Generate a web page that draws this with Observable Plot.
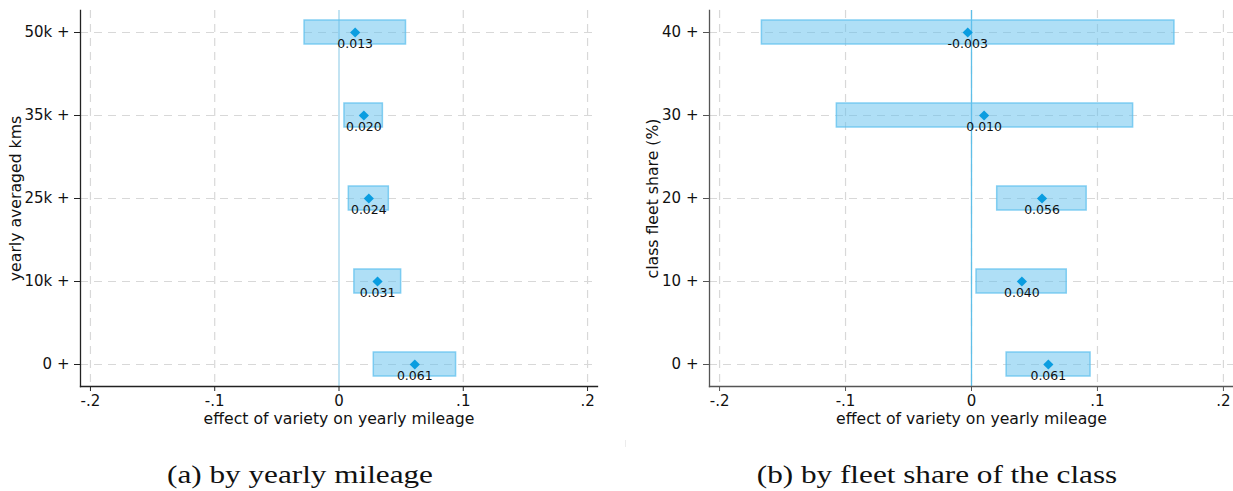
<!DOCTYPE html>
<html>
<head>
<meta charset="utf-8">
<script src="https://cdn.jsdelivr.net/npm/d3@7"></script>
<script src="https://cdn.jsdelivr.net/npm/@observablehq/plot@0.6"></script>
<style>
  html, body { margin: 0; padding: 0; background: #fff; }
  #root { position: relative; width: 1233px; height: 491px; overflow: hidden; font-family: "DejaVu Sans", sans-serif; }
  .panel { position: absolute; top: 0; }
  .divider { position: absolute; left: 625px; top: 0; width: 0; height: 447px; border-left: 1px solid #ececec; }
  .caption { position: absolute; top: 460px; font-family: "Liberation Serif", "DejaVu Serif", serif; font-size: 26px; line-height: 30px; color: #111; transform: translateX(-50%) scaleX(1.2); white-space: nowrap; }
</style>
</head>
<body>
<div id="root">
  <div id="left" class="panel" style="left:0px"></div>
  <div class="divider"></div>
  <div id="right" class="panel" style="left:625px"></div>
  <div class="caption" style="left:300px">(a) by yearly mileage</div>
  <div class="caption" style="left:937px">(b) by fleet share of the class</div>
</div>
<script>
// ---- data ----
const mileageCats = ["0 +", "10k +", "25k +", "35k +", "50k +"];
const mileageEst  = [0.061, 0.031, 0.024, 0.020, 0.013];
const mileageLo   = [0.028, 0.0124, 0.0079, 0.0044, -0.0277];
const mileageHi   = [0.0942, 0.050, 0.0401, 0.0353, 0.0539];
const mileageLbl  = ["0.061", "0.031", "0.024", "0.020", "0.013"];

const shareCats = ["0 +", "10 +", "20 +", "30 +", "40 +"];
const shareEst  = [0.061, 0.040, 0.056, 0.010, -0.003];
const shareLo   = [0.0279, 0.004, 0.0204, -0.1069, -0.1664];
const shareHi   = [0.0945, 0.0756, 0.0914, 0.1283, 0.1611];
const shareLbl  = ["0.061", "0.040", "0.056", "0.010", "-0.003"];

const xTicks = [-0.2, -0.1, 0, 0.1, 0.2];
const xTickLabels = ["-.2", "-.1", "0", ".1", ".2"];
const xDomain = [-0.208, 0.208];
const xTitle = "effect of variety on yearly mileage";

function panel({cats, est, lo, hi, lbl, yTitle, width, marginLeft, marginRight, titleDx, axisColor, zeroColor, zeroWidth}) {
  const rows = cats.map((c, i) => ({cat: c, est: est[i], lo: lo[i], hi: hi[i], lbl: lbl[i]}));
  return Plot.plot({
    width, height: 440,
    marginLeft, marginRight, marginTop: 10, marginBottom: 54,
    style: {fontFamily: "DejaVu Sans, sans-serif", fontSize: "15px", color: "#111", background: "white"},
    x: {domain: xDomain, ticks: xTicks},
    y: {domain: cats.slice().reverse(), paddingInner: 0.711, paddingOuter: 0.12},
    marks: [
      Plot.gridX(xTicks, {stroke: "#d8d8d8", strokeOpacity: 1, strokeWidth: 1.2, strokeDasharray: "8,6"}),
      Plot.gridY(cats, {stroke: "#d8d8d8", strokeOpacity: 1, strokeWidth: 1.2, strokeDasharray: "8,6"}),
      Plot.ruleX([0], {stroke: zeroColor, strokeWidth: zeroWidth}),
      Plot.barX(rows, {x1: "lo", x2: "hi", y: "cat", fill: "#5fc0ee", fillOpacity: 0.5, stroke: "#5fc0ee", strokeOpacity: 0.75, strokeWidth: 1.5}),
      Plot.dot(rows, {x: "est", y: "cat", symbol: "diamond2", r: 4.6, fill: "#0a9de0", stroke: "none"}),
      Plot.text(rows, {x: "est", y: "cat", text: "lbl", dy: 11, fontSize: 12.5, fill: "#111"}),
      Plot.axisX({ticks: xTicks, tickFormat: (d) => xTickLabels[xTicks.indexOf(d)], tickSize: 5, tickPadding: 4, fontSize: 15, stroke: axisColor, label: null}),
      Plot.axisY({tickSize: 6, tickPadding: 5, fontSize: 15, stroke: axisColor, label: null}),
      Plot.frame({anchor: "bottom", stroke: axisColor, strokeWidth: 1.3}),
      Plot.frame({anchor: "left", stroke: axisColor, strokeWidth: 1.3}),
      Plot.text([xTitle], {frameAnchor: "bottom", dy: 32, lineAnchor: "middle", fontSize: 15.7, fill: "#111"}),
      Plot.text([yTitle], {frameAnchor: "left", dx: titleDx, rotate: -90, lineAnchor: "middle", textAnchor: "middle", fontSize: 15.7, fill: "#111"})
    ]
  });
}

document.getElementById("left").appendChild(panel({
  cats: mileageCats, est: mileageEst, lo: mileageLo, hi: mileageHi, lbl: mileageLbl,
  yTitle: "yearly averaged kms", width: 615, marginLeft: 80, marginRight: 18, titleDx: -65,
  axisColor: "#222", zeroColor: "#c2e3f2", zeroWidth: 2
}));
document.getElementById("right").appendChild(panel({
  cats: shareCats, est: shareEst, lo: shareLo, hi: shareHi, lbl: shareLbl,
  yTitle: "class fleet share (%)", width: 608, marginLeft: 84, marginRight: 0, titleDx: -57,
  axisColor: "#555", zeroColor: "#5fbfe8", zeroWidth: 1.3
}));
</script>
</body>
</html>
